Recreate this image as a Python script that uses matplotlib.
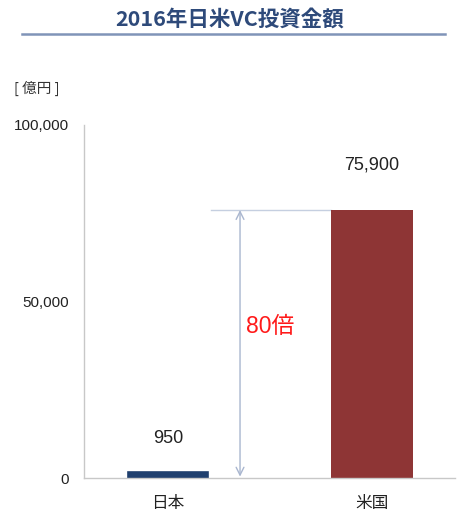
import matplotlib
matplotlib.use("Agg")
import matplotlib.pyplot as plt
from matplotlib.lines import Line2D

plt.rcParams['font.family'] = ['Liberation Sans', 'Noto Sans CJK JP', 'DejaVu Sans']

categories = ['日本', '米国']
values = [950, 75900]
value_labels = ['950', '75,900']
bar_colors = ['#1f3f6e', '#8e3535']
yticks = [0, 50000, 100000]
ytick_labels = ['0', '50,000', '100,000']
title = '2016年日米VC投資金額'
unit = '[ 億円 ]'
ratio_label = '80倍'

W, H = 457, 516
fig = plt.figure(figsize=(W/100, H/100), dpi=100)
ax = fig.add_axes([84/W, 1-478/H, (455-84)/W, (478-125)/H])

x = list(range(len(categories)))
ax.bar(x, values, width=[0.365, 0.40], color=bar_colors, edgecolor=bar_colors,
       linewidth=[5.5, 0], zorder=3)
ax.set_xlim(-0.412, 1.407)
ax.set_ylim(0, 100000)

for s in ['top', 'right']:
    ax.spines[s].set_visible(False)
ax.spines['left'].set_color('#c8c8c8')
ax.spines['bottom'].set_color('#c8c8c8')
ax.spines['left'].set_linewidth(1.0)
ax.spines['bottom'].set_linewidth(1.0)
ax.spines['bottom'].set_zorder(4)

ax.set_yticks(yticks)
ax.set_yticklabels(ytick_labels, fontsize=11, color='#222222')
ax.set_xticks(x)
ax.set_xticklabels(categories, fontsize=12, color='#222222',
                   family=['Noto Sans CJK JP', 'DejaVu Sans'])
ax.tick_params(axis='both', length=0)
ax.tick_params(axis='y', pad=11)
ax.tick_params(axis='x', pad=12)

# value labels
ax.annotate(value_labels[0], (x[0], values[0]), xytext=(0, 20), textcoords='offset points',
            ha='center', va='bottom', fontsize=13, color='#222222')
ax.annotate(value_labels[1], (x[1], values[1]), xytext=(0, 26), textcoords='offset points',
            ha='center', va='bottom', fontsize=13, color='#222222')

# reference line and double arrow
arrow_x = 0.353
ax.plot([0.21, x[1] - 0.2], [values[1], values[1]], color='#c5cfe0', lw=1.0, zorder=2)
ax.annotate('', xy=(arrow_x, values[1]), xytext=(arrow_x, 0),
            arrowprops=dict(arrowstyle='<->', color='#a9b6cf', lw=1.0,
                            mutation_scale=14, shrinkA=1, shrinkB=0))
ax.text(arrow_x + 0.03, 43000, ratio_label, color='#ff1a1a', fontsize=16.5,
        ha='left', va='center')

# title & underline
fig.text(230/W, 1-19/H, title, ha='center', va='center', fontsize=15.5,
         fontweight='bold', color='#2e4a7a',
         family=['Noto Sans CJK JP', 'DejaVu Sans'])
fig.add_artist(Line2D([22/W, 445/W], [1-34/H, 1-34/H], color='#8094b8', lw=1.8))

fig.text(14/W, 1-88/H, unit, ha='left', va='center', fontsize=10.5, color='#333333',
         family=['Noto Sans CJK JP', 'DejaVu Sans'])

fig.savefig('out.png', dpi=100)
